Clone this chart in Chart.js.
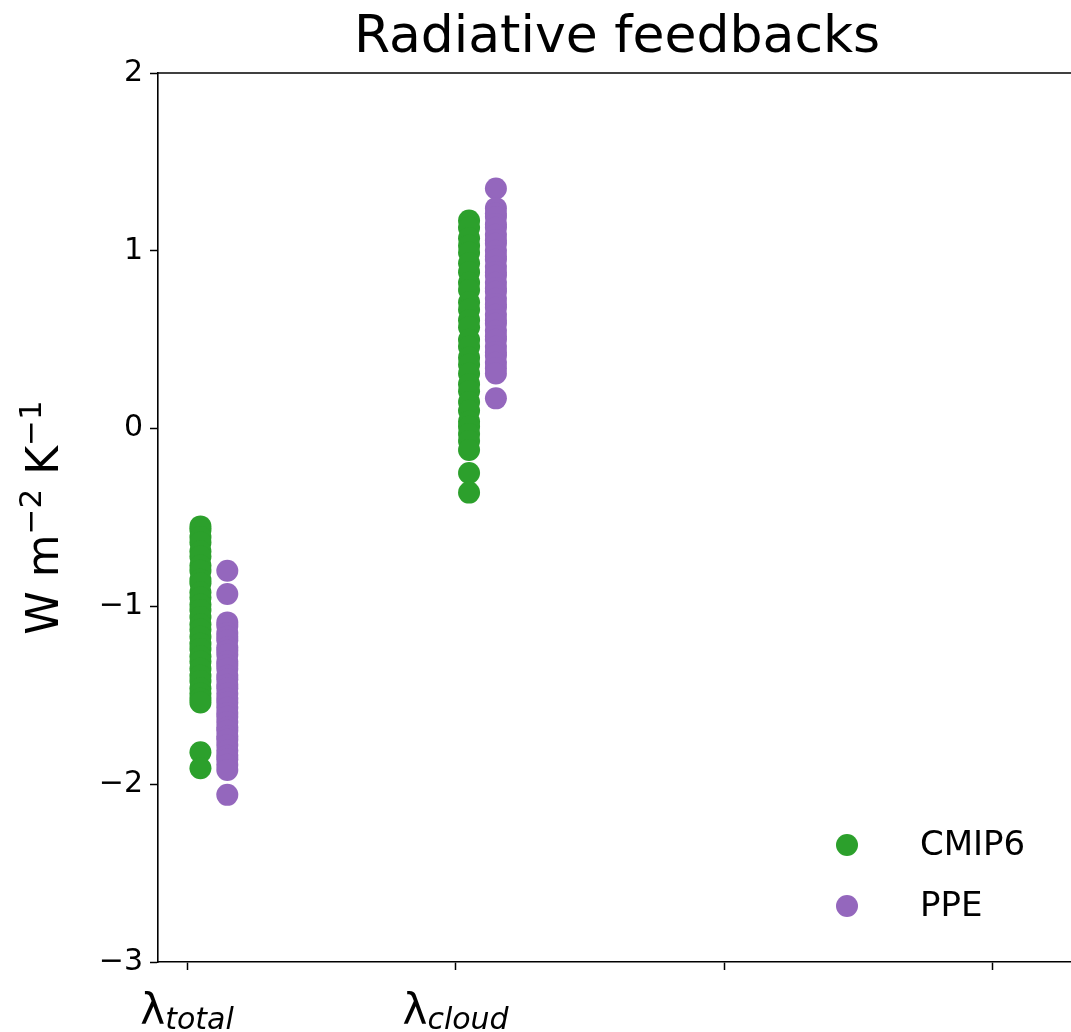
<!DOCTYPE html>
<html lang="en">
<head>
    <meta charset="UTF-8">
    <script src="https://cdn.jsdelivr.net/npm/chart.js"></script>
    <style>
        body { margin: 0; padding: 0; overflow: hidden; background: #fff; }
        .chart-container { position: relative; width: 1071px; height: 1032px; }
        canvas { display: block; }
    </style>
</head>
<body>

    <div class="chart-container">
        <canvas id="myChart" width="1071" height="1032"></canvas>
    </div>

    <script>
        // --- DATA ---
        const categories = [['λ', 'total'], ['λ', 'cloud'], ['', ''], ['', '']];
        const seriesNames = ['CMIP6', 'PPE'];
        const seriesColors = ['#2ca02c', '#9467bd'];

        const cmip6Total = [-0.55, -0.57, -0.61, -0.64, -0.69, -0.72, -0.77, -0.80, -0.85, -0.87, -0.92, -0.95,
            -0.99, -1.02, -1.06, -1.10, -1.13, -1.17, -1.21, -1.24, -1.28, -1.31, -1.35, -1.39, -1.42, -1.46,
            -1.49, -1.52, -1.54, -1.82, -1.91];
        const cmip6Cloud = [1.17, 1.13, 1.07, 1.03, 0.99, 0.93, 0.88, 0.82, 0.78, 0.71, 0.67, 0.61, 0.57, 0.50,
            0.46, 0.40, 0.36, 0.31, 0.25, 0.21, 0.15, 0.10, 0.04, 0.01, -0.03, -0.07, -0.12, -0.25, -0.36];
        const ppeTotal = [-0.80, -0.93, -1.09, -1.11, -1.15, -1.17, -1.19, -1.23, -1.25, -1.27, -1.31, -1.33,
            -1.35, -1.39, -1.41, -1.44, -1.46, -1.49, -1.52, -1.54, -1.57, -1.60, -1.62, -1.65, -1.68, -1.70,
            -1.73, -1.75, -1.78, -1.81, -1.84, -1.86, -1.89, -1.92, -2.06];
        const ppeCloud = [1.35, 1.24, 1.21, 1.19, 1.15, 1.13, 1.09, 1.06, 1.04, 1.00, 0.97, 0.95, 0.91, 0.88,
            0.86, 0.82, 0.79, 0.77, 0.73, 0.70, 0.68, 0.64, 0.61, 0.59, 0.55, 0.52, 0.50, 0.46, 0.43, 0.41,
            0.37, 0.34, 0.31, 0.17];

        const yTicks = [-3, -2, -1, 0, 1, 2];
        const xTicks = [0, 1, 2, 3];

        const titleText = 'Radiative feedbacks';
        // y label pieces: [text, isSuperscript]
        const yLabelParts = [['W m', false], ['\u22122', true], [' K', false], ['\u22121', true]];

        // horizontal offset of each series from its category tick
        const seriesOffsets = [0.05, 0.15];

        function points(values, cat, s) {
            return values.map(v => ({ x: cat + seriesOffsets[s], y: v }));
        }

        const FONT = '"DejaVu Sans", sans-serif';

        // --- HELPER: extra drawing (title, labels, top spine, legend) ---
        // the axes box runs a few px past the right edge of the picture, so no right spine is drawn
        const decorPlugin = {
            id: 'decor',
            afterDraw(chart) {
                const ctx = chart.ctx;
                const area = chart.chartArea;
                const xs = chart.scales.x;
                ctx.save();
                ctx.fillStyle = '#000';

                // top spine
                ctx.strokeStyle = '#000';
                ctx.lineWidth = 1.6;
                ctx.beginPath();
                ctx.moveTo(area.left, area.top);
                ctx.lineTo(area.right, area.top);
                ctx.stroke();

                // title, centred over the full (partly cut) axes box
                const axesRight = xs.getPixelForValue(3.31);
                ctx.font = '52px ' + FONT;
                ctx.textAlign = 'center';
                ctx.textBaseline = 'alphabetic';
                ctx.fillText(titleText, (area.left + axesRight) / 2, 52);

                // x labels: lambda with italic subscript
                categories.forEach((lab, i) => {
                    if (!lab[0]) return;
                    const px = xs.getPixelForValue(xTicks[i]);
                    ctx.font = '42px ' + FONT;
                    const w1 = ctx.measureText(lab[0]).width;
                    ctx.font = 'italic 30px ' + FONT;
                    const w2 = ctx.measureText(lab[1]).width;
                    let x0 = px - (w1 + w2) / 2;
                    ctx.textAlign = 'left';
                    ctx.font = '42px ' + FONT;
                    ctx.fillText(lab[0], x0, 1024);
                    ctx.font = 'italic 30px ' + FONT;
                    ctx.fillText(lab[1], x0 + w1, 1029);
                });

                // y axis label (rotated)
                ctx.save();
                ctx.translate(58, (area.top + area.bottom) / 2);
                ctx.rotate(-Math.PI / 2);
                let total = 0;
                yLabelParts.forEach(p => {
                    ctx.font = (p[1] ? '31px ' : '44px ') + FONT;
                    total += ctx.measureText(p[0]).width;
                });
                let cx = -total / 2;
                ctx.textAlign = 'left';
                yLabelParts.forEach(p => {
                    ctx.font = (p[1] ? '31px ' : '44px ') + FONT;
                    ctx.fillText(p[0], cx, p[1] ? -17 : 0);
                    cx += ctx.measureText(p[0]).width;
                });
                ctx.restore();

                // legend, lower right inside the axes
                const legendY = [845, 906];
                seriesNames.forEach((name, i) => {
                    ctx.fillStyle = seriesColors[i];
                    ctx.beginPath();
                    ctx.arc(847, legendY[i], 11, 0, Math.PI * 2);
                    ctx.fill();
                    ctx.fillStyle = '#000';
                    ctx.font = '34px ' + FONT;
                    ctx.textAlign = 'left';
                    ctx.textBaseline = 'middle';
                    ctx.fillText(name, 920, legendY[i] + 1);
                });
                ctx.restore();
            }
        };

        const ctx = document.getElementById('myChart').getContext('2d');
        const myChart = new Chart(ctx, {
            type: 'scatter',
            data: {
                datasets: [
                    {
                        label: seriesNames[0],
                        data: points(cmip6Total, 0, 0).concat(points(cmip6Cloud, 1, 0)),
                        backgroundColor: seriesColors[0],
                        borderWidth: 0,
                        pointRadius: 11,
                        pointHoverRadius: 11
                    },
                    {
                        label: seriesNames[1],
                        data: points(ppeTotal, 0, 1).concat(points(ppeCloud, 1, 1)),
                        backgroundColor: seriesColors[1],
                        borderWidth: 0,
                        pointRadius: 11,
                        pointHoverRadius: 11
                    }
                ]
            },
            options: {
                responsive: false,
                animation: false,
                layout: { autoPadding: false, padding: { left: 0, right: 0, top: 73, bottom: 0 } },
                scales: {
                    x: {
                        type: 'linear',
                        min: -0.108,
                        max: 3.291,
                        afterBuildTicks: (scale) => { scale.ticks = xTicks.map(v => ({ value: v })); },
                        afterFit: (scale) => { scale.height = 70; },
                        ticks: { display: false },
                        grid: { drawOnChartArea: false, drawTicks: true, tickLength: 8, tickWidth: 1.5, color: '#000' },
                        border: { display: true, color: '#000', width: 1.6 }
                    },
                    y: {
                        min: -3,
                        max: 2,
                        afterBuildTicks: (scale) => { scale.ticks = yTicks.map(v => ({ value: v })); },
                        afterFit: (scale) => { scale.width = 158; },
                        ticks: {
                            color: '#000',
                            padding: 7,
                            font: { size: 30, family: 'DejaVu Sans' },
                            callback: (v) => (v < 0 ? '\u2212' + Math.abs(v) : String(v))
                        },
                        grid: { drawOnChartArea: false, drawTicks: true, tickLength: 8, tickWidth: 1.5, color: '#000' },
                        border: { display: true, color: '#000', width: 1.6 }
                    }
                },
                plugins: {
                    legend: { display: false },
                    tooltip: { enabled: true }
                }
            },
            plugins: [decorPlugin]
        });
    </script>
</body>
</html>
